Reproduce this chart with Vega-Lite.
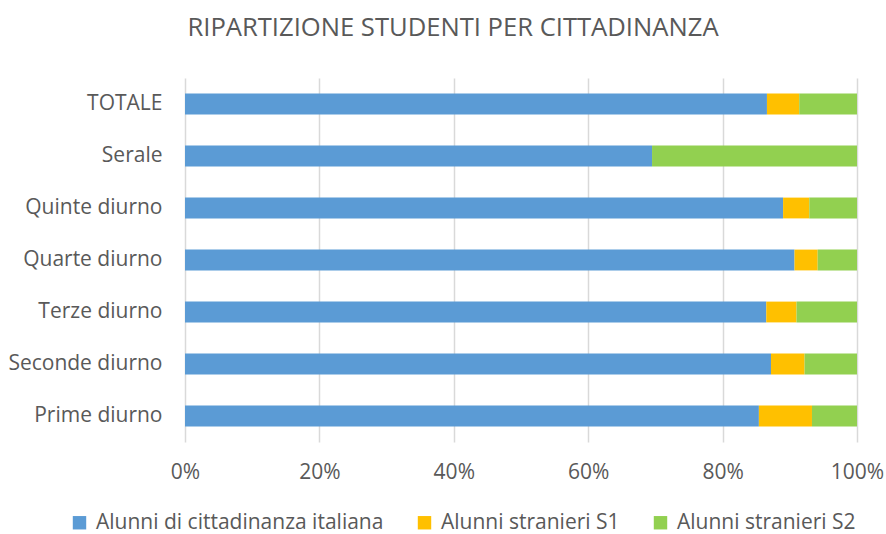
{
  "$schema": "https://vega.github.io/schema/vega-lite/v6.json",
  "width": 672,
  "height": 364,
  "autosize": {"type": "none"},
  "padding": {"left": 185, "top": 78, "right": 29, "bottom": 92},
  "background": "white",
  "title": {
    "text": "RIPARTIZIONE STUDENTI PER CITTADINANZA",
    "font": "Open Sans",
    "fontSize": 25.6,
    "fontWeight": "normal",
    "color": "#595959",
    "anchor": "middle",
    "frame": "group",
    "baseline": "alphabetic",
    "offset": 16,
    "dx": -68
  },
  "data": {
    "values": [
      {"categoria": "TOTALE", "serie": "Alunni di cittadinanza italiana", "ordine": 1, "valore": 86.6},
      {"categoria": "TOTALE", "serie": "Alunni stranieri S1", "ordine": 2, "valore": 4.8},
      {"categoria": "TOTALE", "serie": "Alunni stranieri S2", "ordine": 3, "valore": 8.6},
      {"categoria": "Serale", "serie": "Alunni di cittadinanza italiana", "ordine": 1, "valore": 69.5},
      {"categoria": "Serale", "serie": "Alunni stranieri S1", "ordine": 2, "valore": 0},
      {"categoria": "Serale", "serie": "Alunni stranieri S2", "ordine": 3, "valore": 30.5},
      {"categoria": "Quinte diurno", "serie": "Alunni di cittadinanza italiana", "ordine": 1, "valore": 89.0},
      {"categoria": "Quinte diurno", "serie": "Alunni stranieri S1", "ordine": 2, "valore": 3.9},
      {"categoria": "Quinte diurno", "serie": "Alunni stranieri S2", "ordine": 3, "valore": 7.1},
      {"categoria": "Quarte diurno", "serie": "Alunni di cittadinanza italiana", "ordine": 1, "valore": 90.7},
      {"categoria": "Quarte diurno", "serie": "Alunni stranieri S1", "ordine": 2, "valore": 3.45},
      {"categoria": "Quarte diurno", "serie": "Alunni stranieri S2", "ordine": 3, "valore": 5.85},
      {"categoria": "Terze diurno", "serie": "Alunni di cittadinanza italiana", "ordine": 1, "valore": 86.5},
      {"categoria": "Terze diurno", "serie": "Alunni stranieri S1", "ordine": 2, "valore": 4.5},
      {"categoria": "Terze diurno", "serie": "Alunni stranieri S2", "ordine": 3, "valore": 9.0},
      {"categoria": "Seconde diurno", "serie": "Alunni di cittadinanza italiana", "ordine": 1, "valore": 87.2},
      {"categoria": "Seconde diurno", "serie": "Alunni stranieri S1", "ordine": 2, "valore": 5.0},
      {"categoria": "Seconde diurno", "serie": "Alunni stranieri S2", "ordine": 3, "valore": 7.8},
      {"categoria": "Prime diurno", "serie": "Alunni di cittadinanza italiana", "ordine": 1, "valore": 85.4},
      {"categoria": "Prime diurno", "serie": "Alunni stranieri S1", "ordine": 2, "valore": 7.9},
      {"categoria": "Prime diurno", "serie": "Alunni stranieri S2", "ordine": 3, "valore": 6.7}
    ]
  },
  "mark": {"type": "bar"},
  "encoding": {
    "y": {
      "field": "categoria",
      "type": "nominal",
      "sort": ["TOTALE", "Serale", "Quinte diurno", "Quarte diurno", "Terze diurno", "Seconde diurno", "Prime diurno"],
      "scale": {"paddingInner": 0.6, "paddingOuter": 0.3},
      "axis": {
        "title": null,
        "domain": false,
        "ticks": false,
        "grid": false,
        "labelFont": "Open Sans",
        "labelFontSize": 21,
        "labelColor": "#595959",
        "labelPadding": 23
      }
    },
    "x": {
      "field": "valore",
      "type": "quantitative",
      "stack": "normalize",
      "scale": {"domain": [0, 1], "nice": false},
      "axis": {
        "title": null,
        "format": "%",
        "values": [0, 0.2, 0.4, 0.6, 0.8, 1],
        "domain": false,
        "ticks": false,
        "grid": true,
        "gridColor": "#D9D9D9",
        "gridWidth": 1.5,
        "labelFont": "Open Sans",
        "labelFontSize": 21,
        "labelColor": "#595959",
        "labelPadding": 19,
        "labelFlush": false
      }
    },
    "color": {
      "field": "serie",
      "type": "nominal",
      "sort": ["Alunni di cittadinanza italiana", "Alunni stranieri S1", "Alunni stranieri S2"],
      "scale": {
        "domain": ["Alunni di cittadinanza italiana", "Alunni stranieri S1", "Alunni stranieri S2"],
        "range": ["#5B9BD5", "#FFC000", "#92D050"]
      },
      "legend": {
        "title": null,
        "orient": "none",
        "direction": "horizontal",
        "legendX": -116,
        "legendY": 434,
        "symbolType": "square",
        "symbolSize": 180,
        "symbolStrokeWidth": 0,
        "labelFont": "Open Sans",
        "labelFontSize": 21,
        "labelColor": "#595959",
        "labelOffset": 6,
        "columnPadding": 30,
        "labelLimit": 400
      }
    },
    "order": {"field": "ordine", "type": "quantitative"}
  },
  "config": {"view": {"stroke": null}}
}
